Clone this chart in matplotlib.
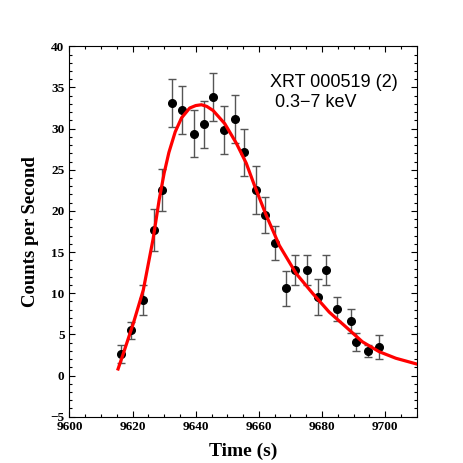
import matplotlib
matplotlib.use('Agg')
import matplotlib.pyplot as plt
from matplotlib.ticker import MultipleLocator

# light curve points (time in s, rate, error)
t = [9616.3, 9619.5, 9623.3, 9626.8, 9629.3, 9632.5, 9635.6, 9639.4, 9642.6,
     9645.4, 9648.9, 9652.4, 9655.2, 9659.0, 9661.8, 9665.0, 9668.5, 9671.3,
     9675.1, 9678.6, 9681.4, 9684.9, 9689.3, 9690.9, 9694.7, 9698.1]
rate = [2.6, 5.5, 9.2, 17.7, 22.5, 33.1, 32.3, 29.4, 30.5,
        33.8, 29.8, 31.2, 27.1, 22.5, 19.5, 16.1, 10.6, 12.8,
        12.8, 9.5, 12.8, 8.1, 6.6, 4.1, 3.0, 3.5]
err = [1.1, 1.05, 1.8, 2.55, 2.55, 2.9, 2.9, 2.9, 2.9,
       2.9, 2.9, 2.9, 2.9, 2.9, 2.2, 2.1, 2.1, 1.8,
       1.8, 2.2, 1.8, 1.45, 1.45, 1.1, 0.75, 1.45]

# fitted model curve
fit_t = [9615.4, 9617.0, 9620.2, 9623.4, 9626.5, 9628.4, 9630.0, 9631.5, 9633.5,
         9635.5, 9638.1, 9640.0, 9641.8, 9643.5, 9645.5, 9649.2, 9652.9, 9656.0,
         9658.8, 9662.3, 9666.5, 9671.8, 9677.0, 9682.3, 9687.6, 9692.8, 9698.1,
         9703.4, 9710.0]
fit_y = [0.8, 2.6, 6.3, 10.4, 16.6, 21.3, 24.6, 27.1, 29.6,
         31.3, 32.5, 32.8, 32.9, 32.7, 32.2, 30.6, 28.2, 25.8,
         22.9, 19.5, 15.8, 12.4, 10.0, 7.7, 5.9, 4.1, 2.9,
         2.1, 1.4]

fig = plt.figure(figsize=(4.63, 4.63), dpi=100)
ax = fig.add_axes([0.15, 0.1, 0.75, 0.8])

ax.errorbar(t, rate, yerr=err, fmt='o', color='black', ms=5.5,
            ecolor='#555555', elinewidth=1, capsize=3, capthick=1, zorder=3)
ax.plot(fit_t, fit_y, color='red', lw=2.3, zorder=4)

ax.set_xlim(9600, 9710)
ax.set_ylim(-5, 40)
ax.xaxis.set_major_locator(MultipleLocator(20))
ax.xaxis.set_minor_locator(MultipleLocator(5))
ax.yaxis.set_major_locator(MultipleLocator(5))
ax.yaxis.set_minor_locator(MultipleLocator(1))
ax.tick_params(which='both', direction='in', top=True, right=True)
ax.tick_params(which='major', length=4.5, width=0.8)
ax.tick_params(which='minor', length=2.2, width=0.8)
ax.tick_params(axis='x', pad=3)
for lab in ax.get_xticklabels() + ax.get_yticklabels():
    lab.set_family('Liberation Serif')
    lab.set_weight('bold')
    lab.set_fontsize(9.5)

ax.set_xlabel('Time (s)', family='Liberation Serif', weight='bold', fontsize=14, labelpad=7)
ax.set_ylabel('Counts per Second', family='Liberation Serif', weight='bold', fontsize=13.5, labelpad=8)

ax.text(270/463, 1 - 87/463, 'XRT 000519 (2)', transform=fig.transFigure,
        family='Liberation Sans', fontsize=13, va='baseline')
ax.text(275/463, 1 - 107/463, '0.3\u22127 keV', transform=fig.transFigure,
        family='Liberation Sans', fontsize=13, va='baseline')

plt.savefig('out.png', dpi=100)
